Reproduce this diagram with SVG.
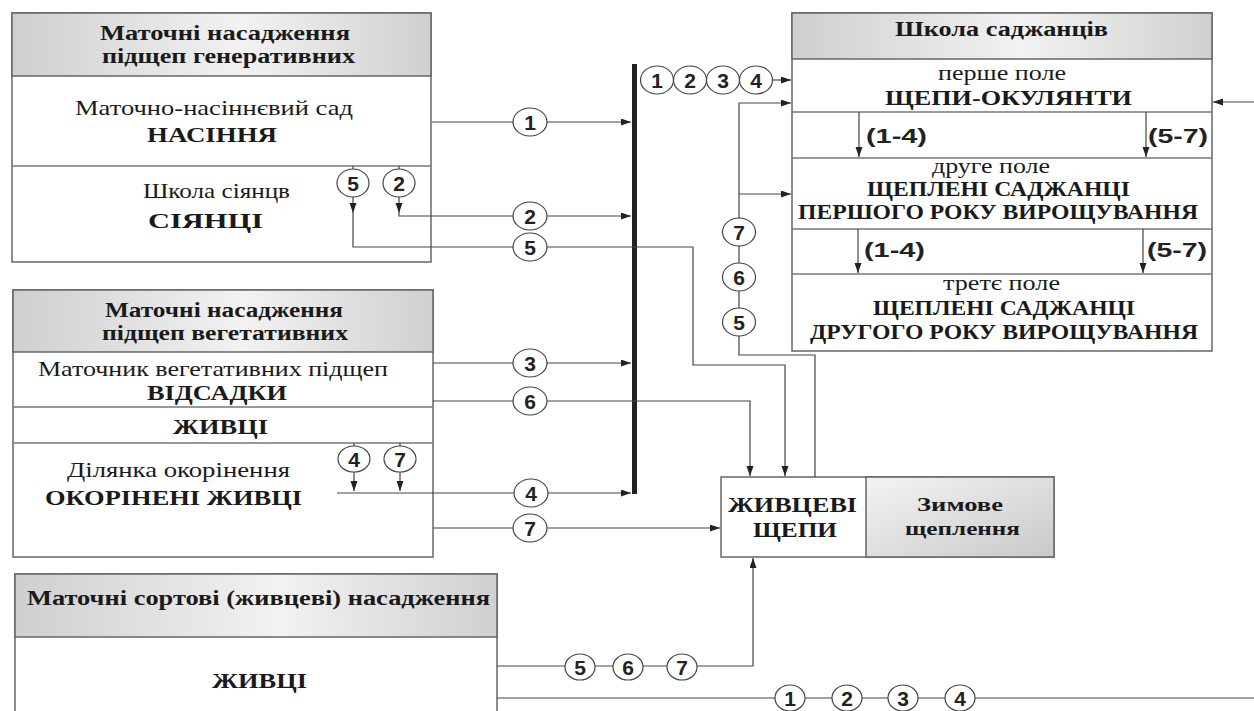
<svg xmlns="http://www.w3.org/2000/svg" width="1254" height="711" viewBox="0 0 1254 711">
<defs>
<linearGradient id="hdr" x1="0" y1="0" x2="1" y2="0">
<stop offset="0" stop-color="#cfcfcf"/>
<stop offset="0.55" stop-color="#f2f2f2"/>
<stop offset="1" stop-color="#d0d0d0"/>
</linearGradient>
<linearGradient id="zim" x1="0" y1="0" x2="1" y2="1">
<stop offset="0" stop-color="#f4f4f4"/>
<stop offset="1" stop-color="#c9c9c9"/>
</linearGradient>
<marker id="ar" markerUnits="userSpaceOnUse" markerWidth="11" markerHeight="8" refX="10" refY="3.5" orient="auto">
<path d="M0,0 L10,3.5 L0,7 z" fill="#222"/>
</marker>
<style>
.box{fill:#fff;stroke:#666;stroke-width:1.5}
.hd{fill:url(#hdr);stroke:#666;stroke-width:1.5}
.dv{stroke:#777;stroke-width:1.3;fill:none}
.ln{stroke:#444;stroke-width:1.2;fill:none}
.la{stroke:#444;stroke-width:1.2;fill:none;marker-end:url(#ar)}
.cl{fill:#fff;stroke:#444;stroke-width:1.2}
.h{font-family:'Liberation Serif','Times New Roman','DejaVu Serif',serif;font-weight:bold;font-size:20px;fill:#1a1a1a}
.z{font-family:'Liberation Serif','Times New Roman','DejaVu Serif',serif;font-weight:bold;font-size:19px;fill:#1a1a1a}
.s{font-family:'Liberation Serif','Times New Roman','DejaVu Serif',serif;font-size:22px;fill:#1a1a1a}
.c{font-family:'Liberation Serif','Times New Roman','DejaVu Serif',serif;font-weight:bold;font-size:20px;fill:#1a1a1a}
.n{font-family:'Liberation Sans',Arial,sans-serif;font-weight:bold;font-size:21px;fill:#222;text-anchor:middle}
.p{font-family:'Liberation Sans',Arial,sans-serif;font-weight:bold;font-size:21px;fill:#222}
</style>
</defs>
<rect width="1254" height="711" fill="#fff"/>

<g id="node-generative">
<rect class="box" x="12" y="13" width="419" height="249"/>
<rect class="hd" x="12" y="13" width="419" height="63"/>
<line class="dv" x1="12" y1="166" x2="431" y2="166"/>
<text class="h" x="100" y="40" textLength="250" lengthAdjust="spacingAndGlyphs">Маточні насадження</text>
<text class="h" x="102" y="63" textLength="253" lengthAdjust="spacingAndGlyphs">підщеп генеративних</text>
<text class="s" x="75" y="115" textLength="278" lengthAdjust="spacingAndGlyphs">Маточно-насіннєвий сад</text>
<text class="c" x="147" y="142" textLength="130" lengthAdjust="spacingAndGlyphs">НАСІННЯ</text>
<text class="s" x="143" y="198" textLength="147" lengthAdjust="spacingAndGlyphs">Школа сіянцв</text>
<text class="c" x="148" y="228" textLength="115" lengthAdjust="spacingAndGlyphs">СІЯНЦІ</text>
</g>

<g id="node-vegetative">
<rect class="box" x="13" y="290" width="420" height="267"/>
<rect class="hd" x="13" y="290" width="420" height="62"/>
<line class="dv" x1="13" y1="407" x2="433" y2="407"/>
<line class="dv" x1="13" y1="443" x2="433" y2="443"/>
<text class="h" x="105" y="317" textLength="238" lengthAdjust="spacingAndGlyphs">Маточні насадження</text>
<text class="h" x="102" y="340" textLength="246" lengthAdjust="spacingAndGlyphs">підщеп вегетативних</text>
<text class="s" x="38" y="376" textLength="350" lengthAdjust="spacingAndGlyphs">Маточник вегетативних підщеп</text>
<text class="c" x="147" y="400" textLength="140" lengthAdjust="spacingAndGlyphs">ВІДСАДКИ</text>
<text class="c" x="173" y="434" textLength="95" lengthAdjust="spacingAndGlyphs">ЖИВЦІ</text>
<text class="s" x="67" y="477" textLength="223" lengthAdjust="spacingAndGlyphs">Ділянка окорінення</text>
<text class="c" x="45" y="505" textLength="257" lengthAdjust="spacingAndGlyphs">ОКОРІНЕНІ ЖИВЦІ</text>
</g>

<g id="node-varietal">
<rect class="box" x="15" y="574" width="482" height="150"/>
<rect class="hd" x="15" y="574" width="482" height="63"/>
<text class="h" x="27" y="605" textLength="463" lengthAdjust="spacingAndGlyphs">Маточні сортові (живцеві) насадження</text>
<text class="c" x="212" y="688" textLength="95" lengthAdjust="spacingAndGlyphs">ЖИВЦІ</text>
</g>

<g id="node-school">
<rect class="box" x="792" y="13" width="420" height="338"/>
<rect class="hd" x="792" y="13" width="420" height="46"/>
<line class="dv" x1="792" y1="112" x2="1212" y2="112"/>
<line class="dv" x1="792" y1="158" x2="1212" y2="158"/>
<line class="dv" x1="792" y1="229" x2="1212" y2="229"/>
<line class="dv" x1="792" y1="274" x2="1212" y2="274"/>
<text class="h" x="895" y="36" textLength="213" lengthAdjust="spacingAndGlyphs">Школа саджанців</text>
<text class="s" x="938" y="80" textLength="128" lengthAdjust="spacingAndGlyphs">перше поле</text>
<text class="c" x="885" y="105" textLength="247" lengthAdjust="spacingAndGlyphs">ЩЕПИ-ОКУЛЯНТИ</text>
<text class="p" x="866" y="143" textLength="61" lengthAdjust="spacingAndGlyphs">(1-4)</text>
<text class="p" x="1148" y="143" textLength="60" lengthAdjust="spacingAndGlyphs">(5-7)</text>
<text class="s" x="932" y="173" textLength="118" lengthAdjust="spacingAndGlyphs">друге поле</text>
<text class="c" x="867" y="196" textLength="263" lengthAdjust="spacingAndGlyphs">ЩЕПЛЕНІ САДЖАНЦІ</text>
<text class="c" x="798" y="219" textLength="400" lengthAdjust="spacingAndGlyphs">ПЕРШОГО РОКУ ВИРОЩУВАННЯ</text>
<text class="p" x="864" y="257" textLength="61" lengthAdjust="spacingAndGlyphs">(1-4)</text>
<text class="p" x="1147" y="257" textLength="60" lengthAdjust="spacingAndGlyphs">(5-7)</text>
<text class="s" x="943" y="290" textLength="117" lengthAdjust="spacingAndGlyphs">третє поле</text>
<text class="c" x="873" y="315" textLength="262" lengthAdjust="spacingAndGlyphs">ЩЕПЛЕНІ САДЖАНЦІ</text>
<text class="c" x="810" y="339" textLength="388" lengthAdjust="spacingAndGlyphs">ДРУГОГО РОКУ ВИРОЩУВАННЯ</text>
</g>

<g id="node-cuttings">
<rect class="box" x="721" y="477" width="333" height="80"/>
<rect x="866" y="477" width="188" height="80" fill="url(#zim)" stroke="#666" stroke-width="1.5"/>
<text class="c" x="728" y="512" textLength="129" lengthAdjust="spacingAndGlyphs">ЖИВЦЕВІ</text>
<text class="c" x="753" y="537" textLength="84" lengthAdjust="spacingAndGlyphs">ЩЕПИ</text>
<text class="z" x="917" y="511" textLength="86" lengthAdjust="spacingAndGlyphs">Зимове</text>
<text class="z" x="905" y="535" textLength="115" lengthAdjust="spacingAndGlyphs">щеплення</text>
</g>

<g id="connectors">
<rect x="632" y="64" width="5" height="430" fill="#222"/>
<path class="la" d="M432,122 H631"/>
<path class="ln" d="M399,166 V170"/>
<path class="la" d="M399,197 V213"/>
<path class="la" d="M399,213 V216 H631"/>
<path class="ln" d="M353,166 V170"/>
<path class="la" d="M353,197 V213"/>
<path class="la" d="M353,213 V247 H693 V365 H785 V476"/>
<path class="la" d="M433,363 H631"/>
<path class="la" d="M433,401 H750 V476"/>
<path class="ln" d="M354,443 V446"/>
<path class="ln" d="M400,443 V446"/>
<path class="la" d="M354,472 V491"/>
<path class="la" d="M400,472 V491"/>
<path class="la" d="M337,493 H631"/>
<path class="la" d="M433,528 H720"/>
<path class="la" d="M773,80 H791"/>
<path class="la" d="M815,477 V355 H739 V103 H791"/>
<path class="la" d="M739,194 H791"/>
<path class="la" d="M1254,102 H1213"/>
<path class="la" d="M859,112 V157"/>
<path class="la" d="M1146,112 V157"/>
<path class="la" d="M858,229 V273"/>
<path class="la" d="M1143,229 V273"/>
<path class="la" d="M497,666 H753 V558"/>
<path class="ln" d="M497,698 H1254"/>
</g>

<g id="connector-labels">
<ellipse class="cl" cx="530" cy="122" rx="17" ry="14"/><text class="n" x="530" y="129.5">1</text>
<ellipse class="cl" cx="530" cy="216" rx="17" ry="14"/><text class="n" x="530" y="223.5">2</text>
<ellipse class="cl" cx="530" cy="247" rx="17" ry="14"/><text class="n" x="530" y="254.5">5</text>
<ellipse class="cl" cx="530" cy="363" rx="17" ry="14"/><text class="n" x="530" y="370.5">3</text>
<ellipse class="cl" cx="530" cy="401" rx="17" ry="14"/><text class="n" x="530" y="408.5">6</text>
<ellipse class="cl" cx="531" cy="493" rx="17" ry="14"/><text class="n" x="531" y="500.5">4</text>
<ellipse class="cl" cx="530" cy="528" rx="17" ry="14"/><text class="n" x="530" y="535.5">7</text>
<ellipse class="cl" cx="353" cy="183" rx="16" ry="14"/><text class="n" x="353" y="190.5">5</text>
<ellipse class="cl" cx="399" cy="183" rx="16" ry="14"/><text class="n" x="399" y="190.5">2</text>
<ellipse class="cl" cx="354" cy="459" rx="16" ry="13"/><text class="n" x="354" y="466.5">4</text>
<ellipse class="cl" cx="400" cy="459" rx="16" ry="13"/><text class="n" x="400" y="466.5">7</text>
<ellipse class="cl" cx="657" cy="80" rx="16.5" ry="14"/><text class="n" x="657" y="87.5">1</text>
<ellipse class="cl" cx="690" cy="80" rx="16.5" ry="14"/><text class="n" x="690" y="87.5">2</text>
<ellipse class="cl" cx="723" cy="80" rx="16.5" ry="14"/><text class="n" x="723" y="87.5">3</text>
<ellipse class="cl" cx="756" cy="80" rx="16.5" ry="14"/><text class="n" x="756" y="87.5">4</text>
<ellipse class="cl" cx="739" cy="232" rx="16.5" ry="14"/><text class="n" x="739" y="239.5">7</text>
<ellipse class="cl" cx="739" cy="277" rx="16.5" ry="14"/><text class="n" x="739" y="284.5">6</text>
<ellipse class="cl" cx="739" cy="322" rx="16.5" ry="14"/><text class="n" x="739" y="329.5">5</text>
<ellipse class="cl" cx="580" cy="667" rx="15" ry="13"/><text class="n" x="580" y="674.5">5</text>
<ellipse class="cl" cx="628" cy="667" rx="15" ry="13"/><text class="n" x="628" y="674.5">6</text>
<ellipse class="cl" cx="682" cy="667" rx="15" ry="13"/><text class="n" x="682" y="674.5">7</text>
<ellipse class="cl" cx="790" cy="698" rx="15" ry="13"/><text class="n" x="790" y="705.5">1</text>
<ellipse class="cl" cx="847" cy="698" rx="15" ry="13"/><text class="n" x="847" y="705.5">2</text>
<ellipse class="cl" cx="903" cy="698" rx="15" ry="13"/><text class="n" x="903" y="705.5">3</text>
<ellipse class="cl" cx="960" cy="698" rx="15" ry="13"/><text class="n" x="960" y="705.5">4</text>
</g>
</svg>
